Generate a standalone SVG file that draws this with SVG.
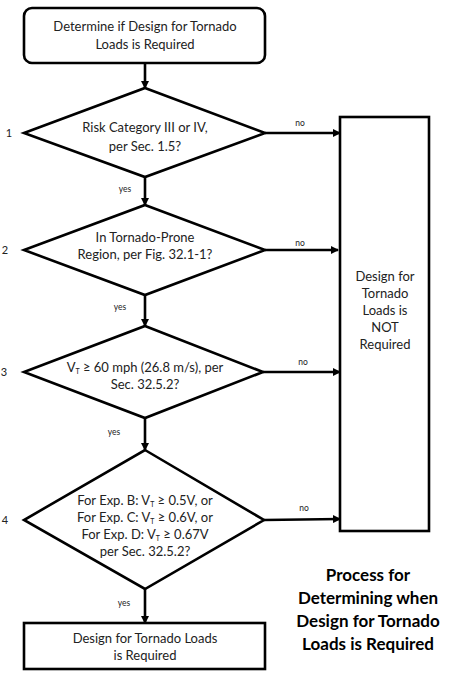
<svg xmlns="http://www.w3.org/2000/svg" width="450" height="685" viewBox="0 0 450 685">
<defs>
<style>
.shape{fill:#fff;stroke:#000;stroke-width:2.6}
.t{font-family:Lato,"Open Sans","Liberation Sans",sans-serif;font-size:13px;fill:#222;text-anchor:middle}
.s{font-family:Lato,"Open Sans","Liberation Sans",sans-serif;font-size:8.5px;fill:#222;text-anchor:middle}
.n{font-family:Lato,"Open Sans","Liberation Sans",sans-serif;font-size:11px;fill:#222;text-anchor:middle}
.cap{font-family:Lato,"Open Sans","Liberation Sans",sans-serif;font-size:17px;font-weight:bold;fill:#000;text-anchor:middle}
.sub{font-size:7px}
.c{stroke:#000;stroke-width:2.6;fill:none;marker-end:url(#ah)}
</style>
<marker id="ah" markerWidth="8" markerHeight="8" refX="7" refY="4" orient="auto" markerUnits="userSpaceOnUse">
<path d="M0,0 L8,4 L0,8 Z" fill="#000"/>
</marker>
</defs>
<rect width="450" height="685" fill="#fff"/>

<g id="connectors">
<line class="c" x1="145" y1="63" x2="145" y2="88"/>
<line class="c" x1="145" y1="177" x2="145" y2="205"/>
<line class="c" x1="145" y1="295" x2="145" y2="326"/>
<line class="c" x1="145" y1="418" x2="145" y2="450"/>
<line class="c" x1="145" y1="589" x2="145" y2="623"/>
<line class="c" x1="265" y1="133" x2="340" y2="133"/>
<line class="c" x1="265" y1="250" x2="338" y2="250"/>
<line class="c" x1="263" y1="372" x2="340" y2="372"/>
<line class="c" x1="264" y1="520" x2="340" y2="519"/>
<text class="s" x="300" y="126">no</text>
<text class="s" x="300" y="246">no</text>
<text class="s" x="303" y="365">no</text>
<text class="s" x="304" y="511">no</text>
<text class="s" x="125" y="192">yes</text>
<text class="s" x="120" y="310">yes</text>
<text class="s" x="114" y="435">yes</text>
<text class="s" x="124" y="606">yes</text>
</g>

<g id="start">
<rect class="shape" x="24" y="8" width="241" height="55" rx="8"/>
<text class="t" x="145" y="31">Determine if Design for Tornado</text>
<text class="t" x="145" y="49">Loads is Required</text>
</g>

<g id="q1">
<polygon class="shape" points="145,88 265,133 145,177 24,133"/>
<text class="t" x="145" y="132">Risk Category III or IV,</text>
<text class="t" x="145" y="151">per Sec. 1.5?</text>
<text class="n" x="9" y="137">1</text>
</g>

<g id="q2">
<polygon class="shape" points="145,205 265,250 145,295 24,250"/>
<text class="t" x="145" y="242">In Tornado-Prone</text>
<text class="t" x="145" y="259">Region, per Fig. 32.1-1?</text>
<text class="n" x="5" y="254">2</text>
</g>

<g id="q3">
<polygon class="shape" points="145,326 263,372 145,418 24,372"/>
<text class="t" x="145" y="372">V<tspan class="sub" dy="2">T</tspan><tspan dy="-2"> ≥ 60 mph (26.8 m/s), per</tspan></text>
<text class="t" x="145" y="389">Sec. 32.5.2?</text>
<text class="n" x="4" y="376">3</text>
</g>

<g id="q4">
<polygon class="shape" points="145,450 264,520 145,589 24,520"/>
<text class="t" x="145" y="505">For Exp. B: V<tspan class="sub" dy="2">T</tspan><tspan dy="-2">  ≥ 0.5V, or</tspan></text>
<text class="t" x="145" y="522">For Exp. C: V<tspan class="sub" dy="2">T</tspan><tspan dy="-2">  ≥ 0.6V, or</tspan></text>
<text class="t" x="145" y="539">For Exp. D: V<tspan class="sub" dy="2">T</tspan><tspan dy="-2">  ≥ 0.67V</tspan></text>
<text class="t" x="145" y="556">per Sec. 32.5.2?</text>
<text class="n" x="5" y="524">4</text>
</g>

<g id="notRequired">
<rect class="shape" x="340" y="117" width="89" height="414"/>
<text class="t" x="385" y="281">Design for</text>
<text class="t" x="385" y="298">Tornado</text>
<text class="t" x="385" y="315">Loads is</text>
<text class="t" x="385" y="332">NOT</text>
<text class="t" x="385" y="349">Required</text>
</g>

<g id="required">
<rect class="shape" x="24" y="623" width="241" height="46"/>
<text class="t" x="145" y="643">Design for Tornado Loads</text>
<text class="t" x="145" y="660">is Required</text>
</g>

<g id="caption">
<text class="cap" x="368" y="581">Process for</text>
<text class="cap" x="368" y="604">Determining when</text>
<text class="cap" x="368" y="627">Design for Tornado</text>
<text class="cap" x="368" y="650">Loads is Required</text>
</g>
</svg>
